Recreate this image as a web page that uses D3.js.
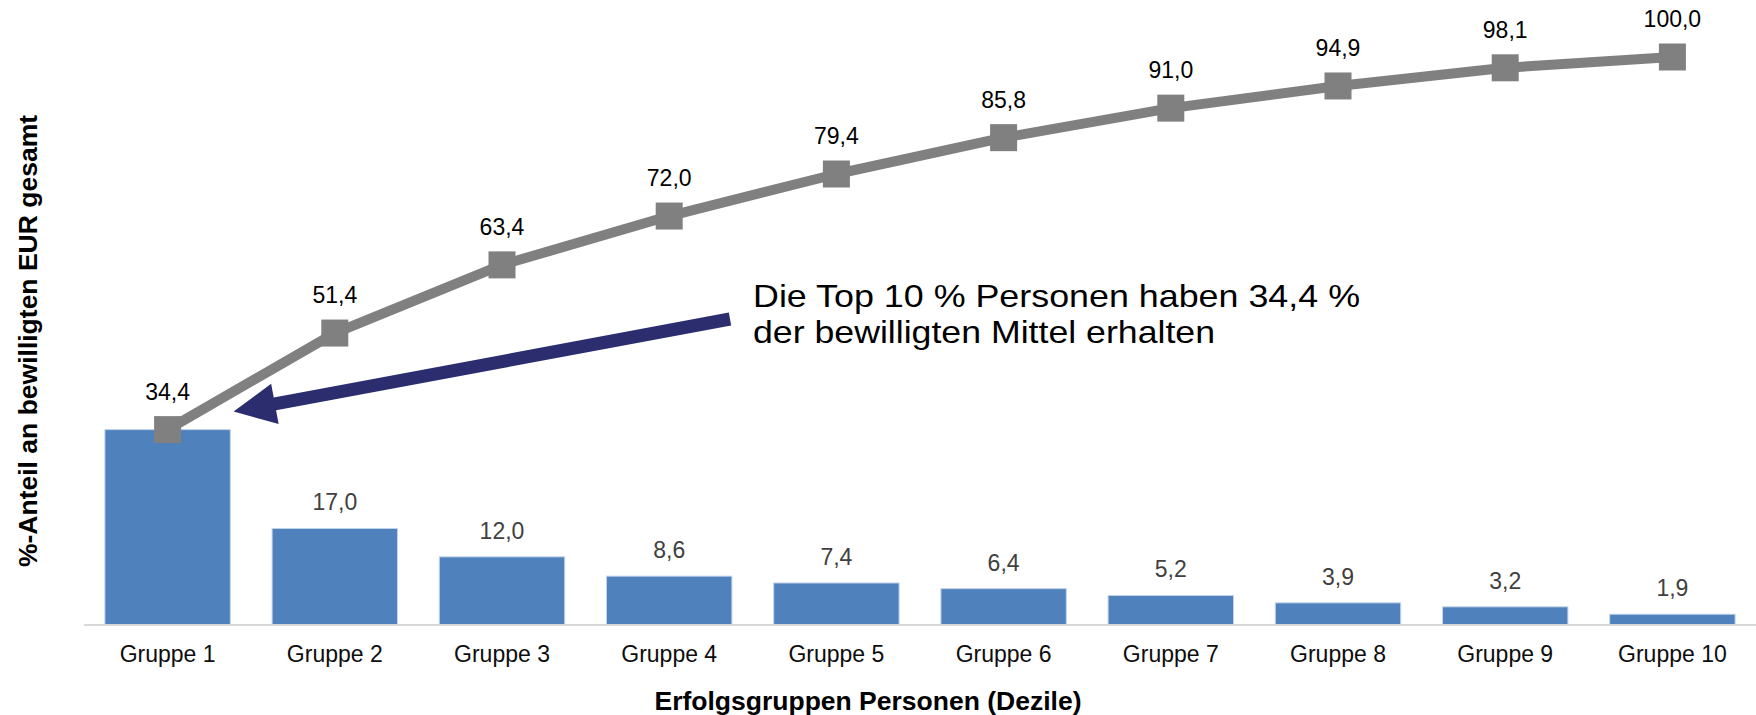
<!DOCTYPE html>
<html>
<head>
<meta charset="utf-8">
<script src="https://cdn.jsdelivr.net/npm/d3@7"></script>
<style>
  html, body { margin: 0; padding: 0; background: #ffffff; }
  svg { display: block; font-family: "Liberation Sans", Arial, Helvetica, sans-serif; }
</style>
</head>
<body>
<svg id="chart" width="1756" height="715"></svg>
<script>
// ---- data ----
const categories = ["Gruppe 1", "Gruppe 2", "Gruppe 3", "Gruppe 4", "Gruppe 5",
                    "Gruppe 6", "Gruppe 7", "Gruppe 8", "Gruppe 9", "Gruppe 10"];
const shareValues = [34.4, 17.0, 12.0, 8.6, 7.4, 6.4, 5.2, 3.9, 3.2, 1.9];
const cumulativeValues = [34.4, 51.4, 63.4, 72.0, 79.4, 85.8, 91.0, 94.9, 98.1, 100.0];
const xAxisTitle = "Erfolgsgruppen Personen (Dezile)";
const yAxisTitle = "%-Anteil an bewilligten EUR gesamt";
const annotationLines = ["Die Top 10 % Personen haben 34,4 %", "der bewilligten Mittel erhalten"];

// ---- setup ----
const svg = d3.select("#chart");
const plotLeft = 84, plotRight = 1756, baseY = 625, topY = 57;

const locale = d3.formatLocale({decimal: ",", thousands: ".", grouping: [3], currency: ["", " €"]});
const fmt = locale.format(".1f");

const x = d3.scaleBand().domain(categories).range([plotLeft, plotRight])
  .paddingInner(0.25).paddingOuter(0.125);
const y = d3.scaleLinear().domain([0, 100]).range([baseY, topY]);

const barData = categories.map((c, i) => ({cat: c, v: shareValues[i], cum: cumulativeValues[i]}));
const lineData = categories.map((c, i) => ({cat: c, v: cumulativeValues[i]}));

// ---- bars ----
svg.append("g").selectAll("rect").data(barData).join("rect")
  .attr("x", d => x(d.cat))
  .attr("y", d => y(d.v))
  .attr("width", x.bandwidth())
  .attr("height", d => y(0) - y(d.v))
  .attr("fill", "#4f81bd")
  .attr("stroke", "#c3d3ea")
  .attr("stroke-width", 1);

// ---- x axis ----
const xAxis = d3.axisBottom(x).tickSize(0).tickPadding(0);
const gx = svg.append("g").attr("transform", `translate(0,${baseY})`).call(xAxis);
gx.select(".domain").attr("stroke", "#d9d9d9").attr("stroke-width", 2)
  .attr("d", `M${plotLeft},0H${plotRight}`);
gx.selectAll(".tick text")
  .attr("y", 37).attr("dy", null)
  .attr("font-size", "23px")
  .attr("font-family", "Liberation Sans, Arial, sans-serif")
  .attr("fill", "#0d0d0d");

// ---- bar labels (the first bar's label coincides with the line label, hidden as in the original) ----
svg.append("g").selectAll("text").data(barData.filter(d => d.v !== d.cum)).join("text")
  .attr("x", d => x(d.cat) + x.bandwidth() / 2)
  .attr("y", d => y(d.v) - 18)
  .attr("text-anchor", "middle")
  .attr("font-size", "23px")
  .attr("fill", "#404040")
  .text(d => fmt(d.v));

// ---- cumulative line ----
const line = d3.line()
  .x(d => x(d.cat) + x.bandwidth() / 2)
  .y(d => y(d.v));
svg.append("path").datum(lineData)
  .attr("d", line)
  .attr("fill", "none")
  .attr("stroke", "#808080")
  .attr("stroke-width", 10)
  .attr("stroke-linejoin", "round");

const sq = 27;
svg.append("g").selectAll("rect").data(lineData).join("rect")
  .attr("x", d => x(d.cat) + x.bandwidth() / 2 - sq / 2)
  .attr("y", d => y(d.v) - sq / 2)
  .attr("width", sq).attr("height", sq)
  .attr("fill", "#808080");

svg.append("g").selectAll("text").data(lineData).join("text")
  .attr("x", d => x(d.cat) + x.bandwidth() / 2)
  .attr("y", d => y(d.v) - 30)
  .attr("text-anchor", "middle")
  .attr("font-size", "23px")
  .attr("fill", "#000000")
  .text(d => fmt(d.v));

// ---- axis titles ----
svg.append("text")
  .attr("x", 868).attr("y", 710)
  .attr("text-anchor", "middle")
  .attr("font-size", "26.5px").attr("font-weight", "bold")
  .attr("fill", "#000")
  .text(xAxisTitle);

svg.append("text")
  .attr("transform", "translate(37,341) rotate(-90)")
  .attr("text-anchor", "middle")
  .attr("font-size", "26.5px").attr("font-weight", "bold")
  .attr("fill", "#000")
  .text(yAxisTitle);

// ---- annotation ----
const annX = 753, annY = 307, annLH = 36;
const annWidths = [607, 462];
const ann = svg.append("g");
annotationLines.forEach((t, i) => {
  ann.append("text")
    .attr("x", annX).attr("y", annY + i * annLH)
    .attr("font-size", "31.5px").attr("fill", "#000")
    .attr("textLength", annWidths[i]).attr("lengthAdjust", "spacingAndGlyphs")
    .text(t);
});

// arrow anchored to the first cumulative point and the annotation text
const p0 = {x: x(categories[0]) + x.bandwidth() / 2, y: y(cumulativeValues[0])};
const tip = [p0.x + 66, p0.y - 18];
const start = [annX - 23, annY + 12];
const dx = start[0] - tip[0], dy = start[1] - tip[1];
const len = Math.hypot(dx, dy);
const ux = dx / len, uy = dy / len;
const nx = -uy, ny = ux;
const headLen = 42, headHalf = 20.5;
const base = [tip[0] + ux * headLen, tip[1] + uy * headLen];
svg.append("line")
  .attr("x1", start[0]).attr("y1", start[1])
  .attr("x2", base[0] - ux * 4).attr("y2", base[1] - uy * 4)
  .attr("stroke", "#2b2d6e").attr("stroke-width", 13);
svg.append("path")
  .attr("d", `M${tip[0]},${tip[1]}L${base[0] + nx * headHalf},${base[1] + ny * headHalf}L${base[0] - nx * headHalf},${base[1] - ny * headHalf}Z`)
  .attr("fill", "#2b2d6e");
</script>
</body>
</html>
